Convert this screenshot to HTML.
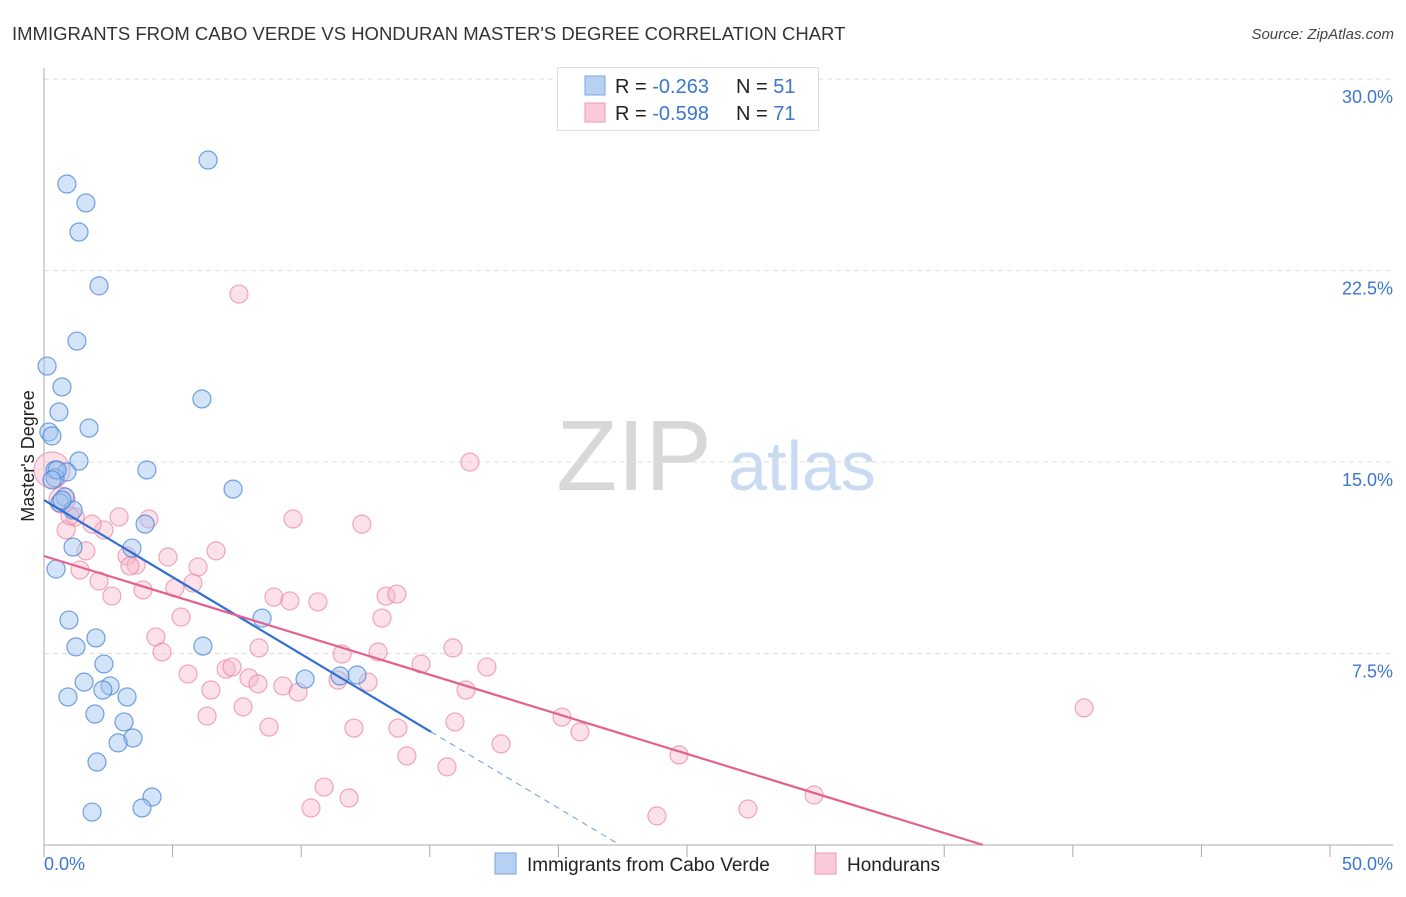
<!DOCTYPE html>
<html><head><meta charset="utf-8"><style>
body{margin:0;background:#fff;font-family:"Liberation Sans",sans-serif}
svg text{font-family:"Liberation Sans",sans-serif}
</style></head><body>
<svg id="c" width="1406" height="892">
<text x="12" y="40" font-size="18.5" fill="#333">IMMIGRANTS FROM CABO VERDE VS HONDURAN MASTER'S DEGREE CORRELATION CHART</text>
<text x="1394" y="39" font-size="15" fill="#444" font-style="italic" text-anchor="end">Source: ZipAtlas.com</text>
<g>
<text x="634" y="490" font-size="100" font-family="Liberation Serif" fill="#d8d8d8" text-anchor="middle">ZIP</text>
<text x="802" y="490" font-size="70" fill="#c9dbf2" text-anchor="middle">atlas</text></g>
<g id="grid"></g><g id="axes"></g><g id="marks"></g>
<text transform="translate(34,456) rotate(-90)" font-size="18" fill="#222" text-anchor="middle">Master's Degree</text>
<g>
<rect x="557.5" y="67.5" width="261" height="63" fill="#fff" stroke="#ddd"/>
<rect x="585" y="76" width="20" height="19" fill="#b7d1f3" stroke="#7aa6e6"/>
<rect x="585" y="103" width="20" height="19" fill="#fbc9d7" stroke="#ef9ab4"/>
<text x="615" y="93" font-size="20" fill="#222">R = <tspan fill="#3b76d1">-0.263</tspan><tspan x="736">N = </tspan><tspan fill="#3b76d1">51</tspan></text>
<text x="615" y="120" font-size="20" fill="#222">R = <tspan fill="#3b76d1">-0.598</tspan><tspan x="736">N = </tspan><tspan fill="#3b76d1">71</tspan></text></g>
<g>
<rect x="495" y="853" width="21" height="21" fill="#b7d1f3" stroke="#7aa6e6"/>
<text x="527" y="871" font-size="19" fill="#222">Immigrants from Cabo Verde</text>
<rect x="815" y="853" width="21" height="21" fill="#fbc9d7" stroke="#ef9ab4"/>
<text x="847" y="871" font-size="19" fill="#222">Hondurans</text></g>
</svg>
<script>
const blueX=[6.38,0.89,1.63,1.36,2.14,1.28,0.12,0.70,0.58,1.75,0.19,0.31,1.36,0.43,0.89,0.43,4.00,6.14,7.35,0.82,0.62,1.13,3.93,1.13,3.42,0.47,0.97,8.48,2.02,1.24,6.18,2.33,1.56,2.57,2.29,3.23,0.93,10.15,12.17,11.51,1.98,3.11,3.46,2.88,2.06,4.20,1.87,3.81,0.51,0.70,0.31];
const blueY=[26.83,25.89,25.15,24.01,21.90,19.74,18.76,17.94,16.96,16.33,16.18,16.02,15.04,14.69,14.61,14.38,14.69,17.47,13.94,13.63,13.40,13.12,12.57,11.67,11.63,10.81,8.81,8.89,8.11,7.76,7.79,7.09,6.38,6.23,6.07,5.80,5.80,6.50,6.66,6.62,5.13,4.82,4.19,4.00,3.25,1.88,1.29,1.45,14.69,13.51,14.30];
const pinkX=[7.58,16.56,9.68,12.36,2.92,4.08,0.86,2.33,1.21,1.87,1.63,3.23,4.82,6.69,3.58,1.40,2.14,3.34,5.99,5.79,5.09,3.85,2.64,8.94,9.56,10.65,13.30,13.72,5.33,13.14,4.35,4.59,8.36,11.59,12.99,15.90,14.66,17.22,5.60,7.08,7.31,7.97,8.32,6.49,9.29,9.88,11.43,12.60,16.41,7.74,6.34,8.75,12.05,13.76,15.98,20.14,20.84,17.77,14.11,15.67,10.89,10.38,11.86,24.69,29.94,27.37,23.83,40.44,0.31,0.70,1.01];
const pinkY=[21.58,15.00,12.77,12.57,12.85,12.77,12.34,12.34,12.85,12.57,11.52,11.32,11.28,11.52,10.97,10.77,10.34,10.93,10.89,10.26,10.07,9.99,9.75,9.71,9.56,9.52,9.75,9.83,8.93,8.89,8.15,7.56,7.72,7.48,7.56,7.72,7.09,6.97,6.70,6.89,6.97,6.54,6.31,6.07,6.23,5.99,6.46,6.38,6.07,5.41,5.05,4.62,4.58,4.58,4.82,5.01,4.43,3.96,3.49,3.06,2.27,1.45,1.84,3.53,1.96,1.41,1.14,5.37,14.69,13.51,12.89];
const pinkBig=[68,69];
const blueTrend=[13.51,-0.6033]; // intercept, slope
const blueSolidEnd=15.05, blueDashEnd=22.4;
const pinkTrend=[11.32,-0.310];
const pinkEnd=36.5;
const yTicks=[7.5,15,22.5,30];
const yTickLabels=["7.5%","15.0%","22.5%","30.0%"];
const xTicks=[0,5,10,15,20,25,30,35,40,45,50];
const xs=v=>44+v*25.72, ys=v=>845-v*25.53;
const NS="http://www.w3.org/2000/svg";
function mk(t,a,p){const e=document.createElementNS(NS,t);for(const k in a)e.setAttribute(k,a[k]);document.getElementById(p).appendChild(e);return e;}
yTicks.forEach((t,i)=>{
 const l=mk('line',{x1:44,x2:1393,y1:ys(t),y2:ys(t),stroke:'#ddd','stroke-dasharray':'5,4'},'grid');
 
 
 const tx=mk('text',{x:1393,y:ys(t)+24,'font-size':18,fill:'#3b76d1','text-anchor':'end'},'axes');
 tx.textContent=yTickLabels[i];
 
 
});
mk('line',{x1:44,x2:44,y1:68,y2:845,stroke:'#aaa'},'axes');
mk('line',{x1:44,x2:1393,y1:845,y2:845,stroke:'#aaa'},'axes');
xTicks.forEach(t=>{const l=mk('line',{x1:xs(t),x2:xs(t),y1:845,y2:857,stroke:'#aaa'},'axes');
 
 });
let a=mk('text',{x:44,y:870,'font-size':18,fill:'#3b76d1'},'axes');a.textContent='0.0%';


a=mk('text',{x:1393,y:870,'font-size':18,fill:'#3b76d1','text-anchor':'end'},'axes');a.textContent='50.0%';


pinkX.forEach((x,i)=>{const r=i===pinkBig[0]?18:(i===pinkBig[1]?13:9);
 const c=mk('circle',{cx:xs(x),cy:ys(pinkY[i]),r:r,fill:'rgba(248,180,200,0.4)',stroke:'rgba(236,130,162,0.7)','stroke-width':1.2},'marks');
 
 });
blueX.forEach((x,i)=>{
 const c=mk('circle',{cx:xs(x),cy:ys(blueY[i]),r:9,fill:'rgba(160,196,240,0.45)',stroke:'rgba(70,130,215,0.75)','stroke-width':1.2},'marks');
 
 });
let t=mk('line',{x1:xs(0),y1:ys(blueTrend[0]),x2:xs(blueSolidEnd),y2:ys(blueTrend[0]+blueTrend[1]*blueSolidEnd),stroke:'#2f6fd6','stroke-width':2.2},'marks');


t=mk('line',{x1:xs(blueSolidEnd),y1:ys(blueTrend[0]+blueTrend[1]*blueSolidEnd),x2:xs(blueDashEnd),y2:ys(blueTrend[0]+blueTrend[1]*blueDashEnd),stroke:'#6a9ae0','stroke-width':1,'stroke-dasharray':'6,5'},'marks');


t=mk('line',{x1:xs(0),y1:ys(pinkTrend[0]),x2:xs(pinkEnd),y2:ys(pinkTrend[0]+pinkTrend[1]*pinkEnd),stroke:'#e4608e','stroke-width':2.2},'marks');


</script>
</body></html>
